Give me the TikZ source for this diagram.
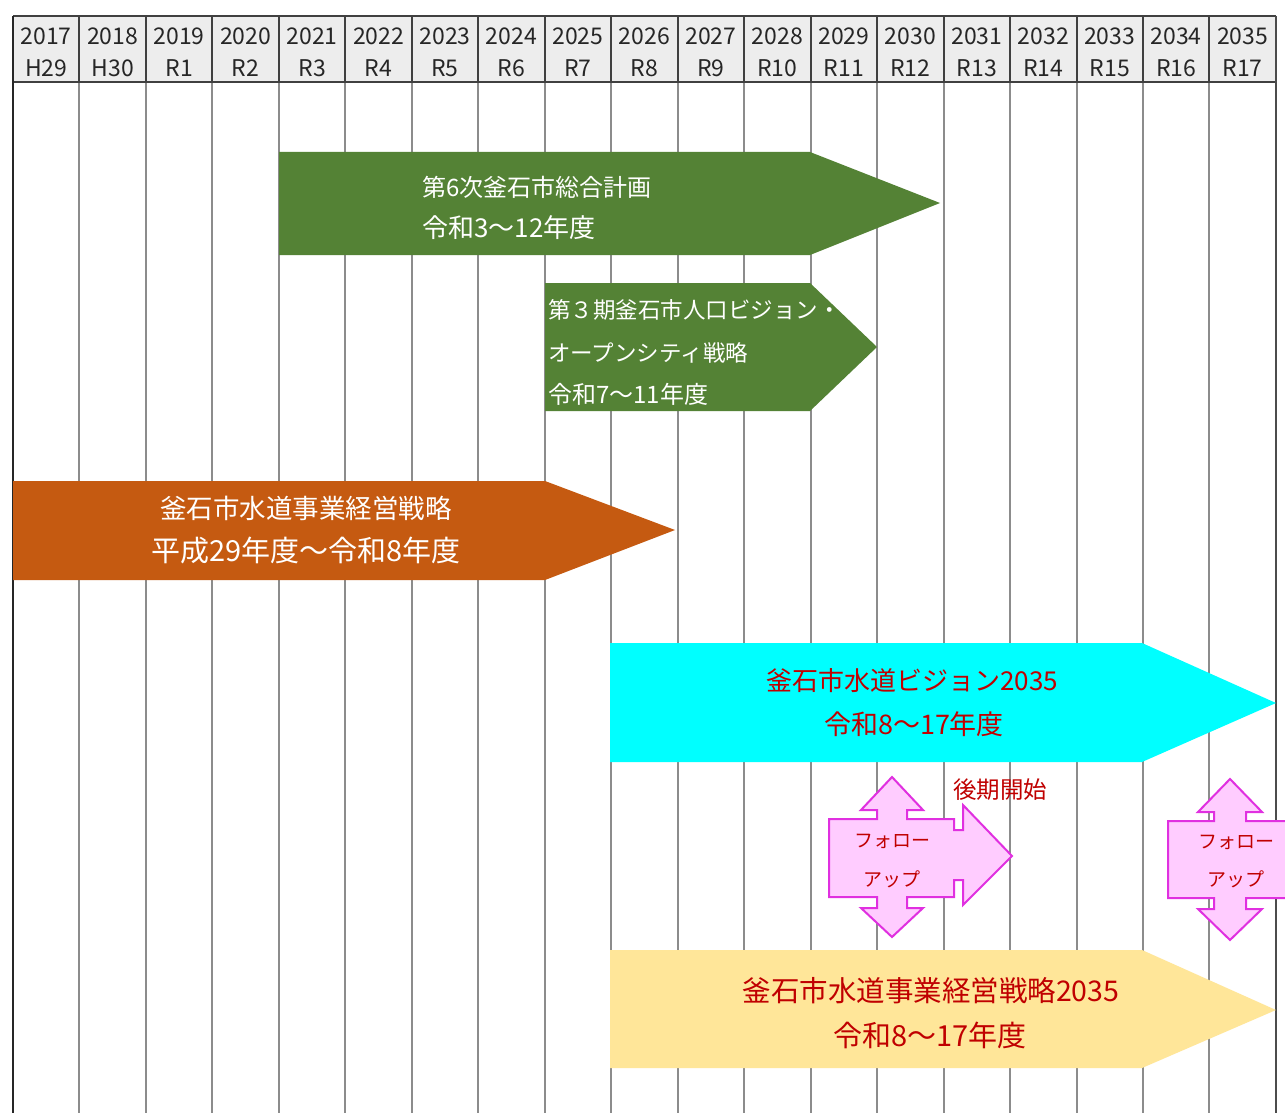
\documentclass[tikz,border=0pt]{standalone}
\usepackage{fontspec}
\setmainfont{Noto Sans CJK JP}
\newfontfamily\jp{Noto Sans CJK JP}
\definecolor{hdrfill}{HTML}{EDEDED}
\definecolor{gridgray}{HTML}{8C8C8C}
\definecolor{darkline}{HTML}{404040}
\definecolor{planGreen}{HTML}{548235}
\definecolor{planOrange}{HTML}{C55A11}
\definecolor{planCyan}{HTML}{00FFFF}
\definecolor{planYellow}{HTML}{FFE699}
\definecolor{txtRed}{HTML}{C00000}
\definecolor{pinkFill}{HTML}{FFCCFF}
\definecolor{pinkLine}{HTML}{E030E0}
\tikzset{
  hdrtext/.style={font=\jp\fontsize{23}{24}\selectfont, text=black!85, inner sep=0pt},
  whitetext/.style={font=\jp\fontsize{24}{42}\selectfont, text=white, inner sep=0pt, align=left},
  whitecenter/.style={font=\jp\fontsize{26.5}{43}\selectfont, text=white, inner sep=0pt, align=center},
  redcenter/.style={font=\jp\fontsize{26}{43}\selectfont, text=txtRed, inner sep=0pt, align=center},
  pinktext/.style={font=\jp\fontsize{19}{20}\selectfont, text=txtRed, inner sep=0pt},
  pinkshape/.style={fill=pinkFill, draw=pinkLine, line width=2pt, line join=miter},
  gridline/.style={draw=gridgray, line width=2pt},
}
\begin{document}
\begin{tikzpicture}[x=1pt,y=-1pt]
\useasboundingbox (0,0) rectangle (1285,1113);
\fill[white] (0,0) rectangle (1285,1113);
\begin{scope}
\clip (0,0) rectangle (1285,1113);
% header
\fill[hdrfill] (13,16) rectangle (1276,82);
\foreach \i in {1,...,18} {
  \draw[gridline] ({13+66.47*\i},82) -- ({13+66.47*\i},1113);
  \draw[darkline, line width=2pt] ({13+66.47*\i},16) -- ({13+66.47*\i},82);
}
\draw[darkline, line width=2.5pt] (13,16) -- (1276,16);
\draw[darkline, line width=2.5pt] (13,82) -- (1276,82);
\draw[black!85, line width=2.5pt] (13,16) -- (13,1113);
\draw[black!70, line width=2.5pt] (1276,16) -- (1276,1113);
\foreach \y/\e [count=\k from 0] in {2017/H29,2018/H30,2019/R1,2020/R2,2021/R3,2022/R4,2023/R5,2024/R6,2025/R7,2026/R8,2027/R9,2028/R10,2029/R11,2030/R12,2031/R13,2032/R14,2033/R15,2034/R16,2035/R17} {
  \node[hdrtext] (yr\k) at ({46.2+66.47*\k},36) {\y};
  \node[hdrtext] (era\k) at ({46.2+66.47*\k},68) {\e};
}
% green arrow 1
\fill[planGreen] (279,152) -- (810,152) -- (940,203) -- (810,255) -- (279,255) -- cycle;
\node[whitetext, anchor=west] (g1a) at (422,187) {第6次釜石市総合計画};
\node[whitetext, anchor=west, font=\jp\fontsize{26}{42}\selectfont] (g1b) at (422,228) {令和3～12年度};
% green arrow 2
\fill[planGreen] (545,283) -- (810,283) -- (877,347) -- (810,411) -- (545,411) -- cycle;
\node[whitetext, anchor=west, font=\jp\fontsize{22.5}{42}\selectfont] (g2a) at (548,310) {第３期釜石市人口ビジョン・};
\node[whitetext, anchor=west, font=\jp\fontsize{22.5}{42}\selectfont] (g2b) at (548,353) {オープンシティ戦略};
\node[whitetext, anchor=west, font=\jp\fontsize{24}{42}\selectfont] (g2c) at (548,394) {令和7～11年度};
% orange arrow
\fill[planOrange] (13,481) -- (545,481) -- (675,530) -- (545,580) -- (13,580) -- cycle;
\node[whitecenter] (o1) at (306,508) {釜石市水道事業経営戦略};
\node[whitecenter, font=\jp\fontsize{29}{43}\selectfont] (o2) at (306,551) {平成29年度～令和8年度};
% cyan arrow
\fill[planCyan] (610,643) -- (1142,643) -- (1276,703) -- (1142,762) -- (610,762) -- cycle;
\node[redcenter] (c1) at (912,681) {釜石市水道ビジョン2035};
\node[redcenter, font=\jp\fontsize{27}{43}\selectfont] (c2) at (914,724) {令和8～17年度};
% yellow arrow
\fill[planYellow] (610,950) -- (1142,950) -- (1276,1010) -- (1142,1068) -- (610,1068) -- cycle;
\node[redcenter, font=\jp\fontsize{28.5}{43}\selectfont] (y1) at (931,991) {釜石市水道事業経営戦略2035};
\node[redcenter, font=\jp\fontsize{29}{43}\selectfont] (y2) at (930,1035) {令和8～17年度};
% pink follow-up 1
\path[pinkshape] (892,777) -- (923,810) -- (907,810) -- (907,819) -- (954,819) -- (954,830)
  -- (963,830) -- (963,805) -- (1012,856) -- (963,905) -- (963,880) -- (954,880) -- (954,897)
  -- (907,897) -- (907,908) -- (923,908) -- (892,937) -- (861,908) -- (877,908) -- (877,897)
  -- (829,897) -- (829,819) -- (877,819) -- (877,810) -- (861,810) -- cycle;
\node[pinktext] (f1a) at (892,841) {フォロー};
\node[pinktext] (f1b) at (892,879) {アップ};
\node[pinktext, font=\jp\fontsize{23.5}{24}\selectfont] (start) at (1000,790) {後期開始};
% pink follow-up 2
\path[pinkshape] (1230,779) -- (1262,812) -- (1246,812) -- (1246,821) -- (1293,821) -- (1293,898)
  -- (1246,898) -- (1246,909) -- (1262,909) -- (1230,940) -- (1198,909) -- (1214,909) -- (1214,898)
  -- (1168,898) -- (1168,821) -- (1214,821) -- (1214,812) -- (1198,812) -- cycle;
\node[pinktext] (f2a) at (1236,842) {フォロー};
\node[pinktext] (f2b) at (1236,879) {アップ};
\end{scope}
\end{tikzpicture}
\end{document}
